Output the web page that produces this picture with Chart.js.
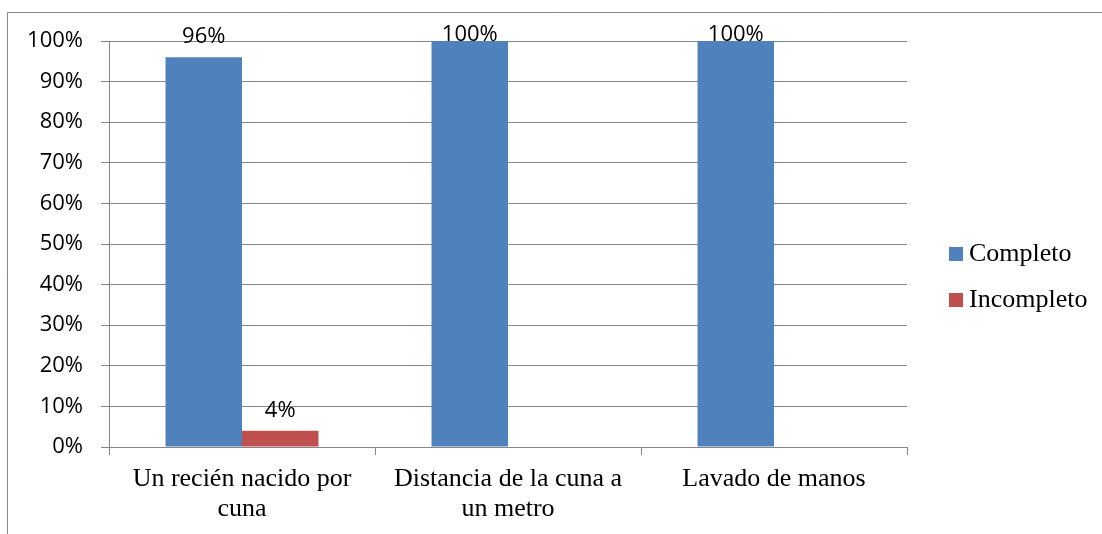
<!DOCTYPE html>
<html>
<head>
<meta charset="utf-8">
<script src="https://cdn.jsdelivr.net/npm/chart.js@4.4.0/dist/chart.umd.min.js"></script>
<style>
  html, body { margin: 0; padding: 0; background: #fff; overflow: hidden; }
  canvas { display: block; }
</style>
</head>
<body>
<canvas id="chart" width="1102" height="534"></canvas>
<script>
// Data
const categories = [
  ['Un recién nacido por', 'cuna'],
  ['Distancia de la cuna a', 'un metro'],
  ['Lavado de manos']
];
const seriesNames = ['Completo', 'Incompleto'];
const completo = [96, 100, 100];
const incompleto = [4, null, null];
const seriesColors = ['#4F81BD', '#C0504D'];

const GRID = '#878787';
const SERIF = '"Liberation Serif", "Times New Roman", serif';

// thin frame around the chart (only top and left edges are visible)
const frame = {
  id: 'frame',
  beforeDraw(chart) {
    const ctx = chart.ctx;
    ctx.save();
    ctx.strokeStyle = GRID;
    ctx.lineWidth = 1;
    ctx.beginPath();
    ctx.moveTo(7.5, chart.height);
    ctx.lineTo(7.5, 12.5);
    ctx.lineTo(chart.width, 12.5);
    ctx.stroke();
    ctx.restore();
  }
};

// value labels above the bars
const barLabels = {
  id: 'barLabels',
  afterDatasetsDraw(chart) {
    const { ctx, chartArea } = chart;
    ctx.save();
    ctx.font = '22px "Open Sans"';
    ctx.fillStyle = '#000';
    ctx.textAlign = 'center';
    ctx.textBaseline = 'alphabetic';
    chart.data.datasets.forEach((ds, i) => {
      chart.getDatasetMeta(i).data.forEach((bar, j) => {
        const v = ds.data[j];
        if (v == null) return;
        const y = Math.max(bar.y - 14, chartArea.top);
        ctx.fillText(v + '%', bar.x, y);
      });
    });
    ctx.restore();
  }
};

// legend on the right, Office style (small square, tight gap)
const sideLegend = {
  id: 'sideLegend',
  afterDraw(chart) {
    const { ctx, chartArea } = chart;
    const x = chartArea.right + 42;
    ctx.save();
    ctx.font = '26px ' + SERIF;
    ctx.textAlign = 'left';
    ctx.textBaseline = 'middle';
    chart.data.datasets.forEach((ds, i) => {
      const cy = 254 + i * 46;
      ctx.fillStyle = ds.backgroundColor;
      ctx.fillRect(x, cy - 7, 14, 14);
      ctx.fillStyle = '#000';
      ctx.fillText(ds.label, x + 20, cy);
    });
    ctx.restore();
  }
};

new Chart(document.getElementById('chart'), {
  type: 'bar',
  data: {
    labels: categories,
    datasets: [
      { label: seriesNames[0], data: completo, backgroundColor: seriesColors[0], borderWidth: 0 },
      { label: seriesNames[1], data: incompleto, backgroundColor: seriesColors[1], borderWidth: 0 }
    ]
  },
  options: {
    responsive: false,
    animation: false,
    events: [],
    datasets: { bar: { categoryPercentage: 0.575, barPercentage: 1.0 } },
    layout: { padding: { top: 41, left: 0, right: 195, bottom: 0 } },
    plugins: {
      tooltip: { enabled: false },
      legend: { display: false }
    },
    scales: {
      x: {
        grid: { display: true, drawOnChartArea: false, drawTicks: true, tickLength: 8, color: GRID, offset: true },
        border: { display: true, color: GRID, width: 1 },
        ticks: {
          color: '#000',
          padding: 10,
          maxRotation: 0,
          autoSkip: false,
          font: { family: SERIF, size: 26, lineHeight: 1.12 }
        },
        afterFit(s) { s.height = 87; }
      },
      y: {
        min: 0,
        max: 100,
        grid: { color: GRID, tickLength: 8, drawTicks: true },
        border: { display: true, color: GRID, width: 1 },
        ticks: {
          stepSize: 10,
          color: '#000',
          padding: 18,
          font: { family: '"Open Sans", sans-serif', size: 22 },
          callback: v => v + '%'
        },
        afterFit(s) { s.width = 109; }
      }
    }
  },
  plugins: [frame, barLabels, sideLegend]
});
</script>
</body>
</html>
